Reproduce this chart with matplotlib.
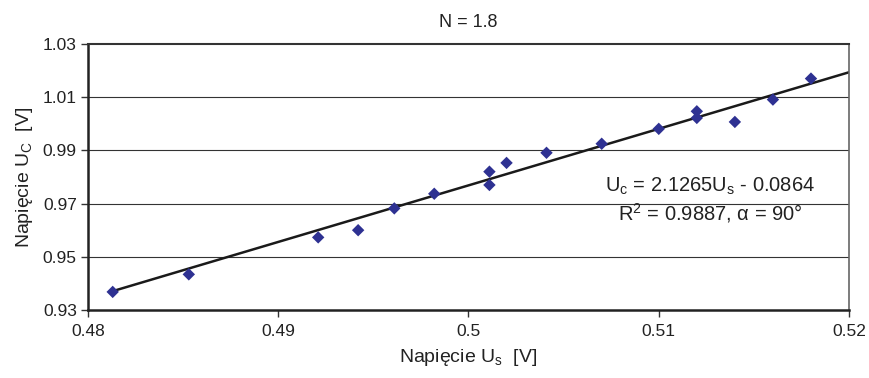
import matplotlib
matplotlib.use("Agg")
import matplotlib.pyplot as plt
import numpy as np

plt.rcParams['font.family'] = ['Liberation Sans', 'DejaVu Sans']
plt.rcParams['mathtext.fontset'] = 'custom'
plt.rcParams['mathtext.rm'] = 'Liberation Sans'
plt.rcParams['mathtext.it'] = 'Liberation Sans:italic'

# measured points
u_s = [0.4813, 0.4853, 0.4921, 0.4942, 0.4961, 0.4982, 0.5011, 0.5011, 0.5020,
       0.5041, 0.5070, 0.5100, 0.5120, 0.5120, 0.5140, 0.5160, 0.5180]
u_c = [0.9368, 0.9434, 0.9573, 0.9600, 0.9682, 0.9737, 0.9770, 0.9820, 0.9853,
       0.9891, 0.9925, 0.9981, 1.0047, 1.0022, 1.0007, 1.0091, 1.0170]

# trend line coefficients
slope = 2.1265
intercept = -0.0864

x_ticks = [0.48, 0.49, 0.50, 0.51, 0.52]
x_labels = ['0.48', '0.49', '0.5', '0.51', '0.52']
y_ticks = [0.93, 0.95, 0.97, 0.99, 1.01, 1.03]

fig = plt.figure(figsize=(8.7, 3.78), dpi=100, facecolor='white')
ax = fig.add_axes([0.1011, 0.1799, 0.8748, 0.7037])

for y in y_ticks[1:-1]:
    ax.axhline(y, color='#333333', lw=0.8, zorder=1)

xl = np.array([min(u_s), 0.52])
ax.plot(xl, slope * xl + intercept, color='#1a1a1a', lw=1.8, zorder=2)
ax.scatter(u_s, u_c, marker='D', s=40, color='#2E3192', edgecolors='none', zorder=3)

ax.set_xlim(0.48, 0.52)
ax.set_ylim(0.93, 1.03)
ax.set_xticks(x_ticks)
ax.set_xticklabels(x_labels)
ax.set_yticks(y_ticks)
ax.set_yticklabels(['%.2f' % v for v in y_ticks])
ax.tick_params(direction='out', length=5, width=1, colors='#333333',
               labelsize=12.5, labelcolor='#222222')
ax.tick_params(axis='x', pad=5)
ax.tick_params(axis='y', pad=3)

for side in ['left', 'bottom']:
    ax.spines[side].set_linewidth(1.8)
    ax.spines[side].set_color('#222222')
ax.spines['top'].set_linewidth(1.5)
ax.spines['top'].set_color('#333333')
ax.spines['right'].set_linewidth(1.2)
ax.spines['right'].set_color('#666666')

ax.set_title('N = 1.8', fontsize=13, color='#222222', pad=12)
ax.set_xlabel(r'Napięcie U$_\mathregular{s}$  [V]', fontsize=14, color='#222222', labelpad=6)
ax.set_ylabel(r'Napięcie U$_\mathregular{C}$  [V]', fontsize=14, color='#222222', labelpad=6)

ax.text(0.5127, 0.9766, r'U$_\mathregular{c}$ = 2.1265U$_\mathregular{s}$ - 0.0864',
        fontsize=14.5, color='#222222', ha='center', va='center')
ax.text(0.5127, 0.9663, r'R$^\mathregular{2}$ = 0.9887, $\mathregular{\alpha}$ = 90°',
        fontsize=14.5, color='#222222', ha='center', va='center')

fig.savefig('out.png', dpi=100, facecolor='white')
